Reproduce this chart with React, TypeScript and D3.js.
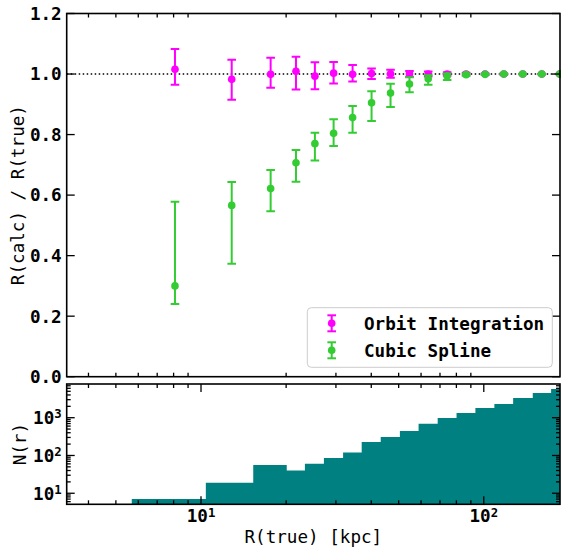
import React from "react";
import * as d3 from "d3";

// ---- data ----
const rPoints = [8.09, 12.84, 17.63, 21.67, 25.28, 29.44, 34.36, 40.1, 46.8, 54.6, 63.6, 74.2, 86.6, 101.1, 117.7, 137.3, 160.3, 185.6];
const orbitVal = [1.0155, 0.9825, 0.999, 1.009, 0.993, 1.003, 0.999, 1.002, 1.001, 1.001, 1.0, 1.0, 1.0, 1.0, 1.0, 1.0, 1.0, 1.0];
const orbitLo = [0.965, 0.915, 0.955, 0.949, 0.95, 0.969, 0.975, 0.984, 0.988, 0.991, 0.992, 0.994, 0.996, 0.998, 0.998, 0.999, 0.999, 0.999];
const orbitHi = [1.083, 1.047, 1.054, 1.057, 1.039, 1.04, 1.03, 1.018, 1.014, 1.01, 1.008, 1.006, 1.004, 1.002, 1.002, 1.001, 1.001, 1.001];
const splineVal = [0.3, 0.566, 0.622, 0.707, 0.77, 0.804, 0.856, 0.905, 0.937, 0.967, 0.9845, 0.9934, 0.998, 0.999, 1.0, 1.0, 1.0, 1.0];
const splineLo = [0.24, 0.373, 0.547, 0.644, 0.714, 0.762, 0.806, 0.845, 0.891, 0.94, 0.965, 0.98, 0.994, 0.997, 0.999, 0.999, 0.9995, 0.9995];
const splineHi = [0.578, 0.643, 0.683, 0.749, 0.806, 0.851, 0.894, 0.943, 0.968, 0.989, 0.996, 1.002, 1.002, 1.001, 1.001, 1.0005, 1.0005, 1.0005];

const histEdges = [5.69, 10.4, 15.3, 20.1, 23.3, 27.2, 31.8, 37.0, 43.2, 50.5, 58.8, 68.7, 80.1, 93.4, 109, 127, 149, 173, 202];
const histCounts = [7, 19, 56, 40, 60, 86, 119, 227, 308, 445, 693, 982, 1330, 1810, 2300, 3300, 4500, 5740];

const topYTicks = [0, 0.2, 0.4, 0.6, 0.8, 1.0, 1.2];
const xMajor = [10, 100];
const xMinor = [4, 5, 6, 7, 8, 9, 20, 30, 40, 50, 60, 70, 80, 90];
const botYMajor = [10, 100, 1000];
const botYMinor = [6, 7, 8, 9, 20, 30, 40, 50, 60, 70, 80, 90, 200, 300, 400, 500, 600, 700, 800, 900, 2000, 3000, 4000, 5000, 6000, 7000];

const legendLabels = ["Orbit Integration", "Cubic Spline"];
const colors = { orbit: "#ff00ff", spline: "#33cc33", hist: "#008080" };

// ---- layout ----
const W = 561, H = 549;
const L = 66.7, R = 560;
const topT = 13.5, topB = 376.7;
const botT = 384, botB = 504.3;
const mono = "'DejaVu Sans Mono', monospace";
const FS = 17.6;

export default function App() {
  const x = d3.scaleLog().domain([3.35, 186]).range([L, R]);
  const yT = d3.scaleLinear().domain([0, 1.2]).range([topB, topT]);
  const yB = d3.scaleLog().domain([5.1, 7800]).range([botB, botT]);

  const histPts: [number, number][] = [];
  histCounts.forEach((c, i) => {
    histPts.push([x(histEdges[i]), yB(c)]);
    histPts.push([x(histEdges[i + 1]), yB(c)]);
  });
  const histPath =
    `M${x(histEdges[0])},${botB + 5}` +
    histPts.map((p) => `L${p[0]},${p[1]}`).join("") +
    `L${x(histEdges[histEdges.length - 1])},${botB + 5}Z`;

  const errSeries = (vals: number[], lo: number[], hi: number[], color: string, key: string) => (
    <g key={key}>
      {rPoints.map((r, i) => {
        const cx = x(r);
        const y1 = yT(hi[i]);
        const y2 = yT(lo[i]);
        return (
          <g key={i}>
            <line x1={cx} x2={cx} y1={y1} y2={y2} stroke={color} strokeWidth={2} />
            <line x1={cx - 4.3} x2={cx + 4.3} y1={y1} y2={y1} stroke={color} strokeWidth={2} />
            <line x1={cx - 4.3} x2={cx + 4.3} y1={y2} y2={y2} stroke={color} strokeWidth={2} />
            <circle cx={cx} cy={yT(vals[i])} r={3.8} fill={color} />
          </g>
        );
      })}
    </g>
  );

  const tickStyle = { stroke: "#000", strokeWidth: 1.3 };

  return (
    <svg width={W} height={H} style={{ position: "absolute", left: 0, top: 0, background: "#fff" }} fontFamily={mono}>
      <defs>
        <clipPath id="clipTop"><rect x={L} y={topT} width={R - L + 10} height={topB - topT} /></clipPath>
        <clipPath id="clipBot"><rect x={L} y={botT} width={R - L} height={botB - botT} /></clipPath>
      </defs>
      <rect x={0} y={0} width={W} height={H} fill="#fff" />

      {/* top panel */}
      <line x1={L} x2={R} y1={yT(1)} y2={yT(1)} stroke="#000" strokeWidth={1.5} strokeDasharray="1.5,2.5" />
      <g clipPath="url(#clipTop)">
        {errSeries(orbitVal, orbitLo, orbitHi, colors.orbit, "o")}
        {errSeries(splineVal, splineLo, splineHi, colors.spline, "s")}
      </g>
      {xMinor.map((v) => (
        <g key={"tm" + v}>
          <line x1={x(v)} x2={x(v)} y1={topT} y2={topT + 4} {...tickStyle} />
          <line x1={x(v)} x2={x(v)} y1={topB} y2={topB - 4} {...tickStyle} />
        </g>
      ))}
      {topYTicks.map((v) => (
        <g key={"ty" + v}>
          <line x1={L} x2={L + 8} y1={yT(v)} y2={yT(v)} {...tickStyle} />
          <line x1={R} x2={R - 8} y1={yT(v)} y2={yT(v)} {...tickStyle} />
          <text x={L - 5} y={yT(v)} dy="0.36em" textAnchor="end" fontSize={FS} fontWeight="bold">{v.toFixed(1)}</text>
        </g>
      ))}
      <rect x={L} y={topT} width={R - L} height={topB - topT} fill="none" stroke="#000" strokeWidth={1.6} />
      <text transform={`translate(18,${(topT + topB) / 2}) rotate(-90)`} textAnchor="middle" dy="0.36em" fontSize={FS}>R(calc) / R(true)</text>

      {/* legend */}
      <rect x={307.3} y={307.7} width={245} height={59.6} rx={4} fill="#fff" stroke="#cccccc" strokeWidth={1} />
      {legendLabels.map((lab, i) => {
        const cy = 323.3 + i * 27;
        const c = i === 0 ? colors.orbit : colors.spline;
        return (
          <g key={lab}>
            <line x1={331.7} x2={331.7} y1={cy - 8} y2={cy + 8} stroke={c} strokeWidth={2} />
            <line x1={327.4} x2={336} y1={cy - 8} y2={cy - 8} stroke={c} strokeWidth={2} />
            <line x1={327.4} x2={336} y1={cy + 8} y2={cy + 8} stroke={c} strokeWidth={2} />
            <circle cx={331.7} cy={cy} r={3.8} fill={c} />
            <text x={364} y={cy} dy="0.36em" fontSize={FS} fontWeight="bold">{lab}</text>
          </g>
        );
      })}

      {/* bottom panel */}
      <g clipPath="url(#clipBot)">
        <path d={histPath} fill={colors.hist} />
      </g>
      {xMinor.map((v) => (
        <g key={"bm" + v}>
          <line x1={x(v)} x2={x(v)} y1={botT} y2={botT + 4} {...tickStyle} />
          <line x1={x(v)} x2={x(v)} y1={botB} y2={botB - 4} {...tickStyle} />
        </g>
      ))}
      {xMajor.map((v) => (
        <g key={"bM" + v}>
          <line x1={x(v)} x2={x(v)} y1={botT} y2={botT + 8} {...tickStyle} />
          <line x1={x(v)} x2={x(v)} y1={botB} y2={botB - 8} {...tickStyle} />
          <text x={x(v)} y={516} dy="0.36em" textAnchor="middle" fontSize={FS} fontWeight="bold">
            10<tspan dy="-0.45em" fontSize={FS * 0.7}>{Math.round(Math.log10(v))}</tspan>
          </text>
        </g>
      ))}
      {botYMinor.map((v) => (
        <g key={"ym" + v}>
          <line x1={L} x2={L + 4} y1={yB(v)} y2={yB(v)} {...tickStyle} />
          <line x1={R} x2={R - 4} y1={yB(v)} y2={yB(v)} {...tickStyle} />
        </g>
      ))}
      {botYMajor.map((v) => (
        <g key={"yM" + v}>
          <line x1={L} x2={L + 8} y1={yB(v)} y2={yB(v)} {...tickStyle} />
          <line x1={R} x2={R - 8} y1={yB(v)} y2={yB(v)} {...tickStyle} />
          <text x={L - 5} y={yB(v)} dy="0.36em" textAnchor="end" fontSize={FS} fontWeight="bold">
            10<tspan dy="-0.45em" fontSize={FS * 0.7}>{Math.round(Math.log10(v))}</tspan>
          </text>
        </g>
      ))}
      <rect x={L} y={botT} width={R - L} height={botB - botT} fill="none" stroke="#000" strokeWidth={1.6} />
      <text transform={`translate(20,${(botT + botB) / 2}) rotate(-90)`} textAnchor="middle" dy="0.36em" fontSize={FS}>N(r)</text>
      <text x={(L + R) / 2} y={543} textAnchor="middle" fontSize={FS}>R(true) [kpc]</text>
    </svg>
  );
}
